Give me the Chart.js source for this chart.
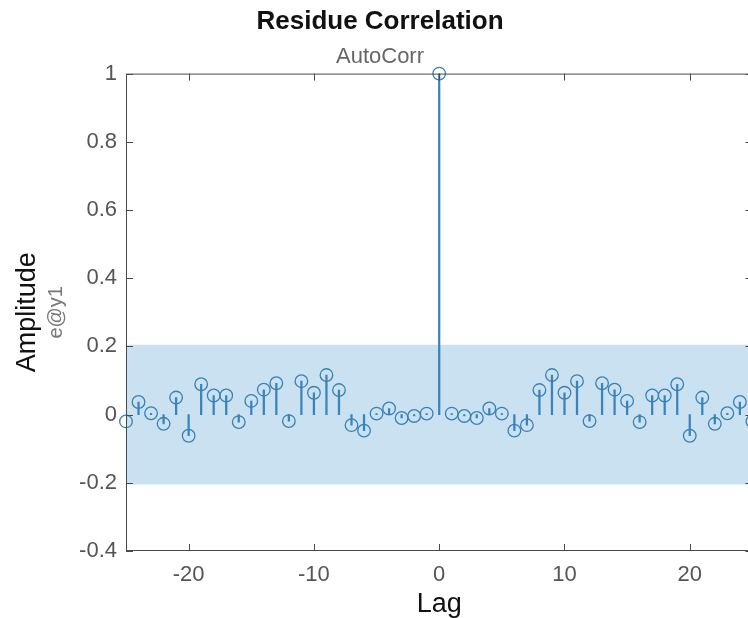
<!DOCTYPE html>
<html>
<head>
<meta charset="utf-8">
<script src="https://cdn.jsdelivr.net/npm/chart.js@4.4.1/dist/chart.umd.min.js"></script>
<style>
  html, body { margin: 0; padding: 0; background: #fff; overflow: hidden; }
  #wrap { position: relative; width: 760px; height: 618px; }
  #c { display: block; width: 760px; height: 618px; }
</style>
</head>
<body>
<div id="wrap"><canvas id="c" width="760" height="618"></canvas></div>
<script>
// ---- data ----
const lags = [-25,-24,-23,-22,-21,-20,-19,-18,-17,-16,-15,-14,-13,-12,-11,-10,-9,-8,-7,-6,-5,-4,-3,-2,-1,
              0,1,2,3,4,5,6,7,8,9,10,11,12,13,14,15,16,17,18,19,20,21,22,23,24,25];
const autoCorr = [-0.020,0.037,0.004,-0.027,0.050,-0.062,0.089,0.056,0.056,-0.022,0.040,0.073,0.092,-0.019,0.098,0.064,0.116,0.072,-0.031,-0.047,0.003,0.018,-0.010,-0.004,0.003,
                  1.000,0.003,-0.004,-0.010,0.018,0.003,-0.047,-0.031,0.072,0.116,0.064,0.098,-0.019,0.092,0.073,0.040,-0.022,0.056,0.056,0.089,-0.062,0.050,-0.027,0.004,0.037,-0.020];
const confLag = [-25, 25];
const confUpper = [0.205, 0.205];
const confLower = [-0.205, -0.205];
const xTicks = [-20, -10, 0, 10, 20];
const yTicks = [-0.4, -0.2, 0, 0.2, 0.4, 0.6, 0.8, 1];
const titleText = 'Residue Correlation';
const subtitleText = 'AutoCorr';
const xTitle = 'Lag';
const yTitle = 'Amplitude';
const ySubTitle = 'e@y1';

// ---- styles ----
const stemColor = '#3a84bb';
const markerColor = '#3a80b0';
const bandColor = 'rgb(201,225,241)';
const frameColor = '#4a4a4a';
const tickColor = '#555555';

Chart.defaults.font.family = '"Liberation Sans", Arial, sans-serif';

const pts = lags.map((x, i) => ({x: x, y: autoCorr[i]}));

const framePlugin = {
  id: 'frame',
  afterDatasetsDraw(chart) {
    const {ctx, chartArea: a, scales} = chart;
    const tl = 7;
    ctx.save();
    ctx.strokeStyle = frameColor;
    ctx.lineWidth = 1;
    ctx.strokeRect(a.left + 0.5, a.top + 0.5, a.right - a.left - 1, a.bottom - a.top - 1);
    ctx.beginPath();
    xTicks.forEach(v => {
      const px = Math.round(scales.x.getPixelForValue(v)) + 0.5;
      ctx.moveTo(px, a.bottom); ctx.lineTo(px, a.bottom - tl);
      ctx.moveTo(px, a.top); ctx.lineTo(px, a.top + tl);
    });
    yTicks.forEach(v => {
      const py = Math.round(scales.y.getPixelForValue(v)) + 0.5;
      ctx.moveTo(a.left, py); ctx.lineTo(a.left + tl, py);
      ctx.moveTo(a.right, py); ctx.lineTo(a.right - tl, py);
    });
    ctx.stroke();
    ctx.restore();
  },
  afterDraw(chart) {
    const {ctx, chartArea: a} = chart;
    ctx.save();
    ctx.translate(56, (a.top + a.bottom) / 2);
    ctx.rotate(-Math.PI / 2);
    ctx.font = '20px "Liberation Sans", Arial, sans-serif';
    ctx.fillStyle = '#777777';
    ctx.textAlign = 'center';
    ctx.textBaseline = 'middle';
    ctx.fillText(ySubTitle, 0, 0);
    ctx.restore();
  }
};

new Chart(document.getElementById('c'), {
  type: 'bar',
  data: {
    datasets: [
      {
        type: 'line', label: 'upper',
        data: confLag.map((x, i) => ({x: x, y: confUpper[i]})),
        borderWidth: 0, pointRadius: 0, backgroundColor: bandColor,
        fill: '+1', order: 3
      },
      {
        type: 'line', label: 'lower',
        data: confLag.map((x, i) => ({x: x, y: confLower[i]})),
        borderWidth: 0, pointRadius: 0, fill: false, order: 4
      },
      {
        type: 'bar', label: 'stems',
        data: pts, backgroundColor: stemColor, borderWidth: 0,
        barThickness: 1.6, grouped: false, order: 2
      },
      {
        type: 'line', label: 'AutoCorr',
        data: pts, showLine: false,
        pointStyle: 'circle', pointRadius: 6.3,
        pointBorderColor: markerColor, pointBackgroundColor: 'rgba(0,0,0,0)',
        pointBorderWidth: 1.3, clip: false, order: 1
      }
    ]
  },
  options: {
    responsive: false,
    maintainAspectRatio: false,
    animation: false,
    events: [],
    layout: { padding: { left: 0, right: 0, top: 0, bottom: 0 } },
    plugins: {
      legend: { display: false },
      tooltip: { enabled: false },
      title: {
        display: true, text: titleText, color: '#111111',
        font: { size: 26, weight: 'bold', lineHeight: 1.2 },
        padding: { top: 6, bottom: 7 }
      },
      subtitle: {
        display: true, text: subtitleText, color: '#666666',
        font: { size: 22, lineHeight: 1.2 },
        padding: { top: 0, bottom: 3 }
      }
    },
    scales: {
      x: {
        type: 'linear', min: -25, max: 25, offset: false,
        afterBuildTicks: s => { s.ticks = xTicks.map(v => ({value: v})); },
        afterFit: s => { s.height = 67; },
        grid: { display: false, drawTicks: false, offset: false },
        border: { display: false },
        ticks: { color: tickColor, font: { size: 22 }, padding: 11, maxRotation: 0 },
        title: { display: true, text: xTitle, color: '#111111', font: { size: 27, lineHeight: 1 }, padding: { top: 1, bottom: 0 } }
      },
      y: {
        type: 'linear', min: -0.4, max: 1,
        afterBuildTicks: s => { s.ticks = yTicks.map(v => ({value: v})); },
        afterFit: s => { s.width = 126; },
        grid: { display: false, drawTicks: false },
        border: { display: false },
        ticks: { color: tickColor, font: { size: 22 }, padding: 9,
                  callback: v => String(Math.round(v * 10) / 10) },
        title: { display: true, text: yTitle, color: '#111111', font: { size: 27, lineHeight: 1.2 }, padding: { top: 11, bottom: 0 } }
      }
    }
  },
  plugins: [framePlugin]
});
</script>
</body>
</html>
